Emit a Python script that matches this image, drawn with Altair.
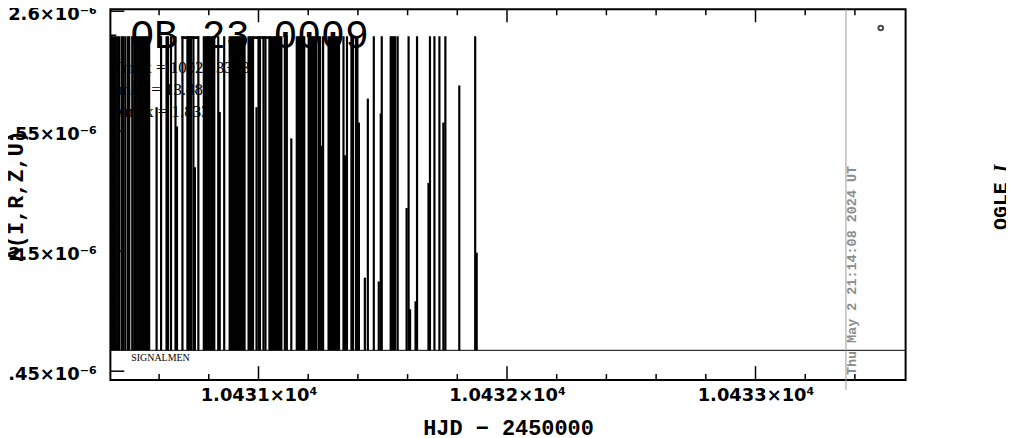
import altair as alt
import pandas as pd

# ---------------- data ----------------
hjd_obs = [
    10430.408, 10430.414, 10430.420, 10430.426, 10430.434, 10430.440, 10430.450, 10430.456,
    10430.464, 10430.474, 10430.480, 10430.492, 10430.500, 10430.506, 10430.512, 10430.518,
    10430.524, 10430.530, 10430.536, 10430.542, 10430.548, 10430.554, 10430.560, 10430.590,
    10430.608, 10430.630, 10430.636, 10430.648, 10430.666, 10430.672, 10430.694, 10430.714,
    10430.720, 10430.728, 10430.738, 10430.744, 10430.758, 10430.780, 10430.786, 10430.792,
    10430.798, 10430.804, 10430.810, 10430.816, 10430.822, 10430.838, 10430.844, 10430.862,
    10430.884, 10430.890, 10430.896, 10430.902, 10430.908, 10430.914, 10430.920, 10430.926,
    10430.932, 10430.938, 10430.944, 10430.960, 10430.966, 10430.972, 10430.978, 10430.992,
    10431.000, 10431.006, 10431.020, 10431.028, 10431.044, 10431.050, 10431.056, 10431.062,
    10431.068, 10431.074, 10431.080, 10431.086, 10431.092, 10431.106, 10431.114, 10431.132,
    10431.154, 10431.160, 10431.166, 10431.172, 10431.178, 10431.184, 10431.202, 10431.208,
    10431.214, 10431.220, 10431.226, 10431.232, 10431.242, 10431.248, 10431.254, 10431.260,
    10431.282, 10431.288, 10431.294, 10431.300, 10431.306, 10431.312, 10431.318, 10431.324,
    10431.342, 10431.348, 10431.356, 10431.374, 10431.380, 10431.392, 10431.398, 10431.404,
    10431.428, 10431.440, 10431.464, 10431.484, 10431.492, 10431.496, 10431.532, 10431.538,
    10431.544, 10431.550, 10431.560, 10431.596, 10431.604, 10431.610, 10431.632, 10431.638,
    10431.684, 10431.690, 10431.708, 10431.728, 10431.744, 10431.752, 10431.808, 10431.872,
    10431.878,
]
top_obs = [
    2.5896, 2.5896, 2.5896, 2.5896, 2.5896, 2.5896, 2.5896, 2.5896,
    2.5896, 2.5896, 2.5896, 2.5896, 2.5896, 2.5896, 2.5896, 2.5896,
    2.5896, 2.5896, 2.5896, 2.5896, 2.5896, 2.5896, 2.5896, 2.5600,
    2.5896, 2.5896, 2.5896, 2.5896, 2.5896, 2.5520, 2.5896, 2.5896,
    2.5896, 2.5896, 2.5896, 2.5350, 2.5896, 2.5896, 2.5896, 2.5896,
    2.5896, 2.5896, 2.5896, 2.5896, 2.5896, 2.5896, 2.5580, 2.5896,
    2.5896, 2.5896, 2.5896, 2.5896, 2.5896, 2.5896, 2.5896, 2.5896,
    2.5896, 2.5896, 2.5896, 2.5896, 2.5896, 2.5896, 2.5896, 2.5600,
    2.5896, 2.5896, 2.5896, 2.5896, 2.5896, 2.5896, 2.5896, 2.5896,
    2.5896, 2.5896, 2.5896, 2.5896, 2.5896, 2.5896, 2.5896, 2.5470,
    2.5896, 2.5896, 2.5896, 2.5896, 2.5896, 2.5896, 2.5896, 2.5896,
    2.5896, 2.5896, 2.5896, 2.5896, 2.5896, 2.5896, 2.5440, 2.5896,
    2.5896, 2.5896, 2.5896, 2.5896, 2.5896, 2.5896, 2.5896, 2.5896,
    2.5896, 2.5400, 2.5896, 2.5896, 2.5896, 2.5896, 2.5896, 2.5536,
    2.4890, 2.5636, 2.5896, 2.4874, 2.5574, 2.5896, 2.5896, 2.5896,
    2.5896, 2.5896, 2.5896, 2.5180, 2.5896, 2.4758, 2.4791, 2.5896,
    2.5284, 2.5896, 2.5896, 2.5896, 2.5536, 2.5896, 2.5690, 2.5896,
    2.4994,
]
baseline_value = 2.4587          # horizontal reference line (x1e-6)
now_hjd = 10433.364              # gray "current time" line
legend_x = [10433.504]
legend_y = [2.593]

x_domain = [10430.404, 10433.604]
y_domain = [2.4463, 2.6008]

x_major = [10431, 10432, 10433]
x_minor = [10430.6, 10430.8, 10431.2, 10431.4, 10431.6, 10431.8, 10432.2, 10432.4,
           10432.6, 10432.8, 10433.2, 10433.4]
y_major = [2.45, 2.5, 2.55, 2.6]
y_minor = [2.46, 2.47, 2.48, 2.49, 2.51, 2.52, 2.53, 2.54, 2.56, 2.57, 2.58, 2.59]

title_text = "OB–23–0009"
param_names = ["Tmax", "Imax", "Amax"]
param_values = ["10028.3373", "13.483", "1.833"]
stamp_text = "Thu May  2 21:14:08 2024 UT"

# ---------------- layout ----------------
W, H = 800, 373
xs = alt.Scale(domain=x_domain, nice=False, zero=False)
ys = alt.Scale(domain=y_domain, nice=False, zero=False)
LABEL_FONT = "DejaVu Sans"
TEXT_FONT = "Liberation Mono"

x_axis = alt.Axis(
    values=x_major, labelExpr="format(datum.value/10000, '.4f') + '×10⁴'",
    ticks=False, domain=False, grid=False, labelFont=LABEL_FONT, labelFontSize=18,
    labelFontWeight="bold", labelColor="black", labelPadding=7,
    title="HJD − 2450000", titleFont=TEXT_FONT, titleFontSize=22, titleFontWeight="bold",
    titleColor="black", titleX=400, titleY=48, titleBaseline="middle", titleAlign="center")
y_axis = alt.Axis(
    values=y_major, labelExpr="toString(round(datum.value*100)/100) + '×10⁻⁶'",
    ticks=False, domain=False, grid=False, labelFont=LABEL_FONT, labelFontSize=18,
    labelFontWeight="bold", labelColor="black", labelPadding=14, labelBaseline="middle",
    labelOffset=3,
    title="Δ(I,R,Z,U)", titleFont=TEXT_FONT, titleFontSize=22, titleFontWeight="bold",
    titleColor="black", titleAngle=270, titleX=-95, titleY=187,
    titleAlign="center", titleBaseline="middle")


def X(field):
    return alt.X(field, scale=xs, axis=x_axis)


def Y(field):
    return alt.Y(field, scale=ys, axis=y_axis)


obs = pd.DataFrame({"hjd": hjd_obs, "top": top_obs, "lo": [baseline_value] * len(hjd_obs)})

bars = alt.Chart(obs).mark_rule(color="black", strokeWidth=2.2).encode(
    x=X("hjd:Q"), y=Y("lo:Q"), y2="top:Q",
)

params = pd.DataFrame({"t": [f"{n} = {v}" for n, v in zip(param_names, param_values)],
                       "yy": [64, 86, 108]})
param_text = alt.Chart(params).mark_text(
    align="left", baseline="alphabetic", font="Liberation Serif", fontSize=17, color="black"
).encode(text="t:N", x=alt.value(2), y=alt.Y("yy:Q", scale=None))

base_df = pd.DataFrame({"v": [baseline_value]})
base_rule = alt.Chart(base_df).mark_rule(color="black", strokeWidth=1).encode(
    y=Y("v:Q"), x=alt.value(0), x2=alt.value(W))

now_df = pd.DataFrame({"v": [now_hjd]})
now_rule = alt.Chart(now_df).mark_rule(color="#999999", strokeWidth=1).encode(
    x=X("v:Q"), y=alt.value(0), y2=alt.value(H + 10))

xmaj = pd.DataFrame({"v": x_major})
xmin = pd.DataFrame({"v": x_minor})
ymaj = pd.DataFrame({"v": y_major})
ymin = pd.DataFrame({"v": y_minor})
tk = dict(color="black", strokeWidth=1.5)
ticks = [
    alt.Chart(xmaj).mark_rule(**tk).encode(x=X("v:Q"), y=alt.value(H), y2=alt.value(H - 14)),
    alt.Chart(xmin).mark_rule(**tk).encode(x=X("v:Q"), y=alt.value(H), y2=alt.value(H - 6)),
    alt.Chart(xmaj).mark_rule(**tk).encode(x=X("v:Q"), y=alt.value(0), y2=alt.value(13)),
    alt.Chart(xmin).mark_rule(**tk).encode(x=X("v:Q"), y=alt.value(0), y2=alt.value(6)),
    alt.Chart(ymaj).mark_rule(**tk).encode(y=Y("v:Q"), x=alt.value(0), x2=alt.value(14)),
    alt.Chart(ymin).mark_rule(**tk).encode(y=Y("v:Q"), x=alt.value(0), x2=alt.value(6)),
]

title_df = pd.DataFrame({"t": [title_text]})
title_mark = alt.Chart(title_df).mark_text(
    align="left", baseline="alphabetic", font=TEXT_FONT, fontSize=40, color="black"
).encode(text="t:N", x=alt.value(20), y=alt.value(39))

sig_df = pd.DataFrame({"t": ["SIGNALMEN"]})
sig_mark = alt.Chart(sig_df).mark_text(
    align="left", baseline="middle", font="Liberation Serif", fontSize=10, color="black"
).encode(text="t:N", x=alt.value(21), y=alt.value(351))

stamp_df = pd.DataFrame({"t": [stamp_text]})
stamp_mark = alt.Chart(stamp_df).mark_text(
    align="left", baseline="middle", angle=270, font=TEXT_FONT, fontSize=13.5,
    fontWeight="bold", color="#8c8c8c"
).encode(text="t:N", x=alt.value(746), y=alt.value(368))

leg_df = pd.DataFrame({"x": legend_x, "y": legend_y})
leg_mark = alt.Chart(leg_df).mark_point(
    shape="circle", size=22, filled=False, color="black", strokeWidth=2
).encode(x=X("x:Q"), y=Y("y:Q"))

ogle_df = pd.DataFrame({"t": ["OGLE"]})
ogle_mark = alt.Chart(ogle_df).mark_text(
    align="center", baseline="middle", angle=270, font=TEXT_FONT, fontSize=20,
    fontWeight="bold", color="black"
).encode(text="t:N", x=alt.value(896), y=alt.value(198))
band_df = pd.DataFrame({"t": ["I"]})
band_mark = alt.Chart(band_df).mark_text(
    align="center", baseline="middle", angle=270, font="Liberation Serif", fontSize=20,
    fontWeight="bold", fontStyle="italic", color="black"
).encode(text="t:N", x=alt.value(896), y=alt.value(160))

chart = alt.layer(
    param_text, bars, base_rule, now_rule, *ticks, title_mark, sig_mark, stamp_mark,
    leg_mark, ogle_mark, band_mark
).properties(
    width=W, height=H,
    padding={"left": 103, "top": 0, "right": 101, "bottom": 62},
    autosize=alt.AutoSizeParams(type="none"),
).configure(background="white").configure_view(stroke="black", strokeWidth=2)

chart.save("out.html", embed_options={"renderer": "svg", "actions": False})
